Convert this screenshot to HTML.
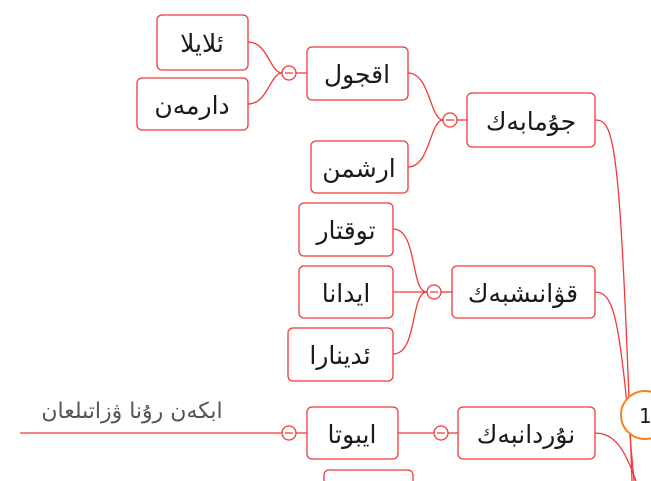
<!DOCTYPE html>
<html><head><meta charset="utf-8"><style>
html,body{margin:0;padding:0;background:#fff;width:651px;height:481px;overflow:hidden}
svg{display:block}
text{font-family:"DejaVu Sans","Liberation Sans",sans-serif;font-size:25px;fill:#1a1a1a}
</style></head><body>
<svg width="651" height="481" viewBox="0 0 651 481">
<g fill="none" stroke="#f23a3a" stroke-width="1.3">
<path d="M595 120 C615 120 620 140 632 481"/>
<path d="M595 292 C615 292 620 320 634 481"/>
<path d="M595 433 C615 433 625 450 636 481"/>
<path d="M467 120 H457"/>
<path d="M443 120 C430 120 430 73 408 73"/>
<path d="M443 120 C430 120 430 167 408 167"/>
<path d="M307 73 H296"/>
<path d="M282 73 C270 73 268 42 248 42"/>
<path d="M282 73 C270 73 268 104 248 104"/>
<path d="M452 292 H441"/>
<path d="M427 292 C410 292 418 229 393 229"/>
<path d="M427 292 H393"/>
<path d="M427 292 C410 292 418 354 393 354"/>
<path d="M458 433 H448"/>
<path d="M434 433 H398"/>
<path d="M307 433 H296"/>
<path d="M282 433 H20"/>
<rect x="157" y="15" width="91" height="55" rx="5" fill="#fff"/>
<rect x="137" y="78" width="111" height="52" rx="5" fill="#fff"/>
<rect x="307" y="47" width="101" height="53" rx="5" fill="#fff"/>
<rect x="311" y="141" width="97" height="52" rx="5" fill="#fff"/>
<rect x="467" y="93" width="128" height="54" rx="5" fill="#fff"/>
<rect x="299" y="203" width="94" height="53" rx="5" fill="#fff"/>
<rect x="299" y="266" width="94" height="52" rx="5" fill="#fff"/>
<rect x="288" y="328" width="105" height="53" rx="5" fill="#fff"/>
<rect x="452" y="266" width="143" height="52" rx="5" fill="#fff"/>
<rect x="307" y="407" width="91" height="52" rx="5" fill="#fff"/>
<rect x="458" y="407" width="137" height="52" rx="5" fill="#fff"/>
<rect x="324" y="470" width="89" height="30" rx="5" fill="#fff"/>
<circle cx="289" cy="73" r="7" fill="#fff"/>
<circle cx="450" cy="120" r="7" fill="#fff"/>
<circle cx="434" cy="292" r="7" fill="#fff"/>
<circle cx="441" cy="433" r="7" fill="#fff"/>
<circle cx="289" cy="433" r="7" fill="#fff"/>
<path d="M285 73h8M446 120h8M430 292h8M437 433h8M285 433h8"/>
</g>
<circle cx="645" cy="415" r="24" fill="#fff" stroke="#f5821f" stroke-width="2"/>
<text x="639" y="423" style="font-size:20px">1</text>
<g text-anchor="middle" direction="rtl">
<text x="202" y="52">ئلايلا</text>
<text x="192" y="114">دارمەن</text>
<text x="357" y="83">اقجول</text>
<text x="359" y="177">ارشمن</text>
<text x="531" y="130">جۇمابەك</text>
<text x="346" y="239">توقتار</text>
<text x="346" y="302">ايدانا</text>
<text x="340" y="364">ئدينارا</text>
<text x="523" y="302">قۋانىشبەك</text>
<text x="352" y="443">ايبوتا</text>
<text x="526" y="443">نۇردانبەك</text>
<text x="132" y="418" style="font-size:22px;fill:#555">ابكەن رۇنا ۋزاتىلعان</text>
</g>
</svg>
</body></html>
